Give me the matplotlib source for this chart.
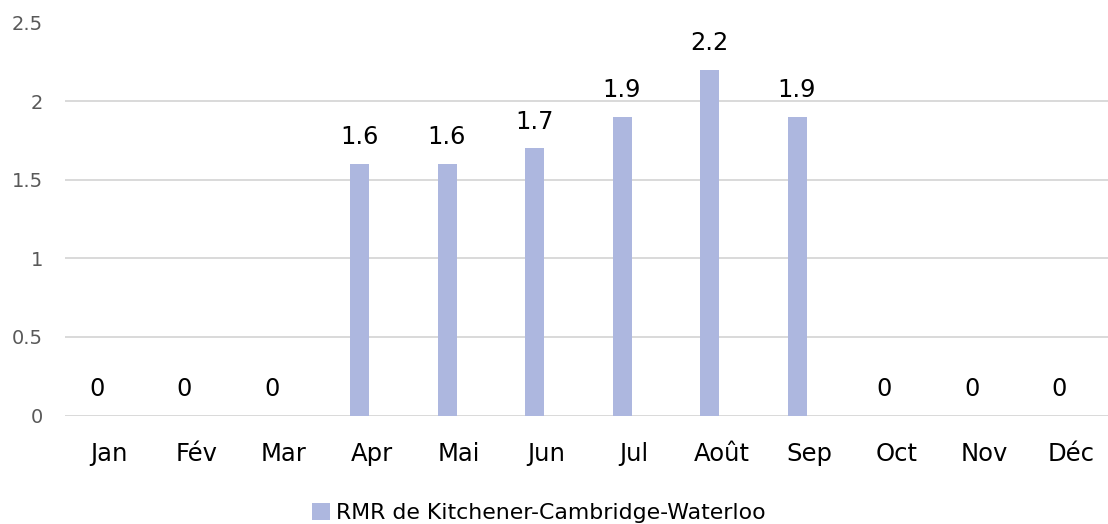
import matplotlib
matplotlib.use("Agg")
import matplotlib.pyplot as plt
import numpy as np

months = ["Jan", "Fév", "Mar", "Apr", "Mai", "Jun", "Jul", "Août", "Sep", "Oct", "Nov", "Déc"]
values = [0, 0, 0, 1.6, 1.6, 1.7, 1.9, 2.2, 1.9, 0, 0, 0]
series_name = "RMR de Kitchener-Cambridge-Waterloo"
yticks = [0, 0.5, 1, 1.5, 2, 2.5]
ytick_labels = ["0", "0.5", "1", "1.5", "2", "2.5"]

W, H = 1108, 524
fig = plt.figure(figsize=(W / 100, H / 100), dpi=100)
left_px, right_px = 65.25, 65.25 + 12 * 87.5
top_px, bottom_px = 22.5, 415.5
ax = fig.add_axes([left_px / W, 1 - bottom_px / H, (right_px - left_px) / W, (bottom_px - top_px) / H])

bar_color = "#ADB7DF"
x = np.arange(len(months))
offset = -12 / 87.5
bw = 19 / 87.5
ax.bar(x + offset, values, width=bw, color=bar_color, zorder=3, label=series_name)

for xi, v in zip(x, values):
    ax.annotate(f"{v:g}", (xi + offset, v), xytext=(0, 14.2), textcoords="offset points",
                ha="center", va="baseline", fontsize=17.3, family="DejaVu Sans", color="#000000")

ax.set_xlim(-0.5, len(months) - 0.5)
ax.set_ylim(0, 2.5)
ax.set_yticks(yticks)
ax.set_yticklabels(ytick_labels, family="DejaVu Sans", fontsize=14, color="#595959")
ax.set_xticks(x)
ax.set_xticklabels(months, family="DejaVu Sans", fontsize=17.5, color="#000000")
ax.tick_params(axis="y", length=0, pad=16)
ax.tick_params(axis="x", length=0, pad=19)
for s in ax.spines.values():
    s.set_visible(False)
ax.grid(axis="y", color="#D9D9D9", linewidth=1.4, zorder=0)
ax.set_axisbelow(True)

leg = fig.legend(loc="center", bbox_to_anchor=(539 / W, 1 - 513 / H), frameon=False,
                 prop={"family": "DejaVu Sans", "size": 15.8}, handlelength=0.8, handleheight=0.8,
                 handletextpad=0.3, borderaxespad=0)

fig.savefig("out.png", dpi=100)
